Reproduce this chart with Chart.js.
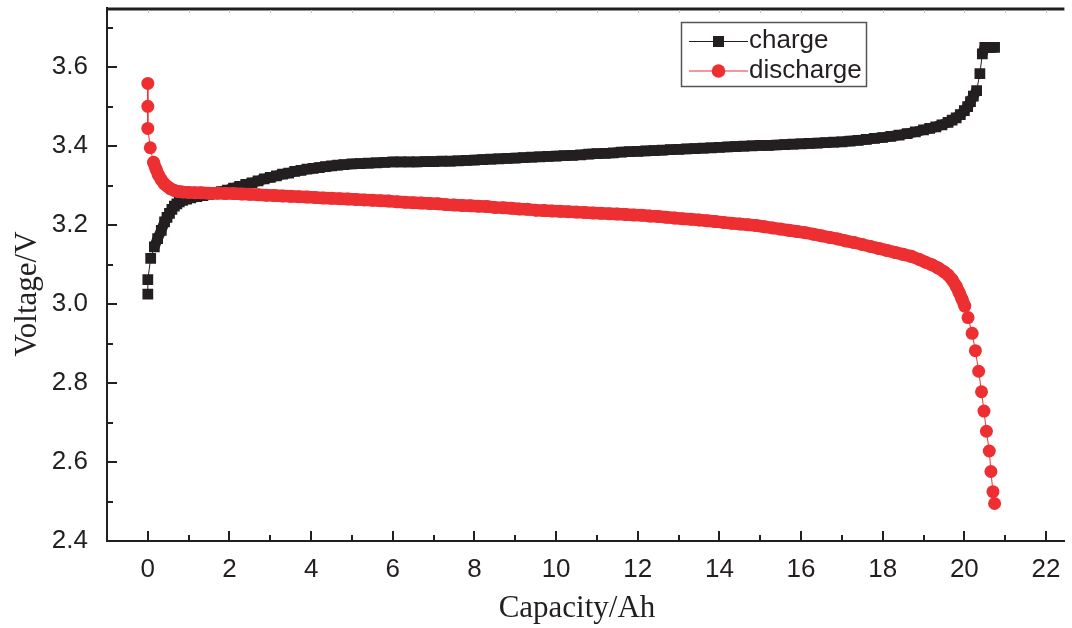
<!DOCTYPE html>
<html>
<head>
<meta charset="utf-8">
<script src="https://cdn.jsdelivr.net/npm/chart.js@4/dist/chart.umd.min.js"></script>
<style>
  body { margin: 0; background: #fff; }
  #wrap { width: 1072px; height: 628px; }
</style>
</head>
<body>
<div id="wrap"><canvas id="chart" width="1072" height="628"></canvas></div>
<script>
// values
const chargeCapacity = [0.00, 0.00, 0.07, 0.16, 0.24, 0.33, 0.41, 0.47, 0.53, 0.59, 0.65, 0.71, 0.77, 0.85, 0.95, 1.05,
  1.2, 1.35, 1.5, 1.65, 1.8, 1.95, 2.1, 2.25, 2.4, 2.55, 2.7, 2.85, 3.0, 3.15, 3.3, 3.45, 3.6, 3.75, 3.9, 4.05,
  4.2, 4.35, 4.5, 4.65, 4.8, 5.0, 5.2, 5.4, 5.6, 5.8, 6.0, 6.2, 6.4, 6.6, 6.8, 7.0, 7.2, 7.4, 7.6, 7.8,
  8.0, 8.2, 8.4, 8.6, 8.8, 9.0, 9.2, 9.4, 9.6, 9.8, 10.0, 10.2, 10.4, 10.6, 10.8, 11.0, 11.2, 11.4, 11.6, 11.8,
  12.0, 12.2, 12.4, 12.6, 12.8, 13.0, 13.2, 13.4, 13.6, 13.8, 14.0, 14.2, 14.4, 14.6, 14.8, 15.0, 15.2, 15.4, 15.6, 15.8,
  16.0, 16.2, 16.4, 16.6, 16.8, 17.0, 17.2, 17.4, 17.6, 17.8, 18.0, 18.2, 18.4, 18.6, 18.8, 19.0, 19.15, 19.3, 19.45, 19.6,
  19.7, 19.8, 19.9, 20.0, 20.08, 20.15, 20.22, 20.3, 20.38, 20.44, 20.5, 20.58, 20.66, 20.74];
const chargeVoltage = [3.025, 3.062, 3.116, 3.145, 3.166, 3.187, 3.208, 3.220, 3.230, 3.240, 3.248, 3.254, 3.259, 3.263, 3.266, 3.269,
  3.272, 3.275, 3.278, 3.281, 3.285, 3.289, 3.294, 3.298, 3.303, 3.307, 3.312, 3.317, 3.321, 3.325, 3.329, 3.332, 3.336, 3.339, 3.342, 3.344,
  3.346, 3.348, 3.350, 3.352, 3.353, 3.355, 3.356, 3.357, 3.358, 3.359, 3.360, 3.360, 3.360, 3.360, 3.361, 3.361, 3.362, 3.362, 3.363, 3.364,
  3.365, 3.366, 3.367, 3.368, 3.369, 3.370, 3.371, 3.372, 3.373, 3.374, 3.375, 3.376, 3.377, 3.378, 3.380, 3.381, 3.382, 3.383, 3.385, 3.386,
  3.387, 3.388, 3.389, 3.390, 3.391, 3.392, 3.393, 3.394, 3.395, 3.396, 3.397, 3.398, 3.399, 3.400, 3.401, 3.402, 3.402, 3.403, 3.404, 3.405,
  3.406, 3.407, 3.408, 3.409, 3.410, 3.411, 3.413, 3.415, 3.417, 3.420, 3.422, 3.425, 3.428, 3.432, 3.436, 3.441, 3.445, 3.449, 3.454, 3.460,
  3.466, 3.472, 3.480, 3.490, 3.500, 3.513, 3.527, 3.541, 3.584, 3.634, 3.650, 3.650, 3.650, 3.650];

const dischargeCapacity = [0.00, 0.00, 0.00, 0.06, 0.14, 0.20, 0.26, 0.33, 0.40, 0.48, 0.56, 0.65, 0.75, 0.85, 1.0, 1.15,
  1.3, 1.5, 1.7, 1.9, 2.1, 2.3, 2.5, 2.7, 2.9, 3.1, 3.3, 3.5, 3.7, 3.9, 4.1, 4.3, 4.5, 4.7, 4.9, 5.1, 5.3, 5.5, 5.7, 5.9,
  6.1, 6.3, 6.5, 6.7, 6.9, 7.1, 7.3, 7.5, 7.7, 7.9, 8.1, 8.3, 8.5, 8.7, 8.9, 9.1, 9.3, 9.5, 9.7, 9.9,
  10.1, 10.3, 10.5, 10.7, 10.9, 11.1, 11.3, 11.5, 11.7, 11.9, 12.1, 12.3, 12.5, 12.7, 12.9, 13.1, 13.3, 13.5, 13.7, 13.9,
  14.1, 14.3, 14.5, 14.7, 14.9, 15.1, 15.3, 15.5, 15.7, 15.9, 16.1, 16.3, 16.5, 16.7, 16.9, 17.1, 17.3, 17.5, 17.7, 17.9,
  18.1, 18.3, 18.5, 18.7, 18.9, 19.05, 19.2, 19.35, 19.5, 19.6, 19.7, 19.8, 19.87, 19.94,
  20.01, 20.09, 20.19, 20.27, 20.35, 20.42, 20.48, 20.54, 20.61, 20.65, 20.70, 20.74];
const dischargeVoltage = [3.559, 3.501, 3.445, 3.396, 3.359, 3.342, 3.327, 3.315, 3.305, 3.298, 3.292, 3.288, 3.285, 3.284, 3.283, 3.282,
  3.282, 3.281, 3.281, 3.280, 3.280, 3.279, 3.278, 3.277, 3.276, 3.275, 3.274, 3.273, 3.272, 3.271, 3.270, 3.269, 3.268, 3.267, 3.266, 3.265, 3.264, 3.263, 3.262, 3.261,
  3.259, 3.258, 3.257, 3.256, 3.255, 3.254, 3.252, 3.251, 3.250, 3.249, 3.248, 3.247, 3.245, 3.244, 3.243, 3.241, 3.240, 3.238, 3.237, 3.236,
  3.235, 3.234, 3.233, 3.232, 3.231, 3.230, 3.229, 3.228, 3.227, 3.226, 3.225, 3.223, 3.222, 3.220, 3.218, 3.216, 3.215, 3.213, 3.211, 3.209,
  3.207, 3.205, 3.203, 3.201, 3.199, 3.196, 3.193, 3.190, 3.187, 3.184, 3.181, 3.177, 3.173, 3.169, 3.165, 3.160, 3.156, 3.151, 3.146, 3.141,
  3.136, 3.131, 3.126, 3.121, 3.113, 3.106, 3.100, 3.092, 3.082, 3.074, 3.062, 3.045, 3.030, 3.013,
  2.995, 2.966, 2.926, 2.882, 2.830, 2.778, 2.729, 2.678, 2.628, 2.576, 2.525, 2.495];

const xTicks = [0, 2, 4, 6, 8, 10, 12, 14, 16, 18, 20, 22];
const xMinorTicks = [-1, 1, 3, 5, 7, 9, 11, 13, 15, 17, 19, 21];
const yTicks = [2.4, 2.6, 2.8, 3.0, 3.2, 3.4, 3.6];
const yMinorTicks = [2.5, 2.7, 2.9, 3.1, 3.3, 3.5, 3.7];
const seriesNames = ['charge', 'discharge'];

const INK = '#231f20';
const RED = '#ee2f32';

const toPoints = (xs, ys) => xs.map((x, i) => ({ x: x, y: ys[i] }));

// where markers sit close together the original prints a solid band;
// fill the gaps between close neighbours with a thick segment
const bandWidth = w => c => Math.hypot(c.p1.x - c.p0.x, c.p1.y - c.p0.y) < 11 ? w : 1;

// frame, inward ticks, legend and axis titles
const decor = {
  id: 'decor',
  afterDraw(chart) {
    const { ctx, chartArea: a, scales: { x, y } } = chart;
    ctx.save();
    ctx.strokeStyle = INK;
    ctx.lineWidth = 2;
    ctx.beginPath();
    xTicks.forEach(v => { const p = Math.round(x.getPixelForValue(v)); ctx.moveTo(p, a.bottom); ctx.lineTo(p, a.bottom - 10); });
    xMinorTicks.forEach(v => { const p = Math.round(x.getPixelForValue(v)); ctx.moveTo(p, a.bottom); ctx.lineTo(p, a.bottom - 6); });
    yTicks.forEach(v => { const p = Math.round(y.getPixelForValue(v)); ctx.moveTo(a.left, p); ctx.lineTo(a.left + 10, p); });
    yMinorTicks.forEach(v => { const p = Math.round(y.getPixelForValue(v)); ctx.moveTo(a.left, p); ctx.lineTo(a.left + 6, p); });
    ctx.stroke();

    // top border with faint ticks
    ctx.lineWidth = 3;
    ctx.beginPath();
    ctx.moveTo(a.left - 1, a.top + 1);
    ctx.lineTo(a.right, a.top + 1);
    ctx.stroke();
    ctx.strokeStyle = '#c8c8c8';
    ctx.lineWidth = 1;
    ctx.beginPath();
    for (let v = 0; v <= 22; v++) {
      const p = Math.round(x.getPixelForValue(v)) + 0.5;
      ctx.moveTo(p, a.top + 2);
      ctx.lineTo(p, a.top + 5);
    }
    ctx.stroke();

    // legend
    ctx.strokeStyle = '#555';
    ctx.lineWidth = 1.5;
    ctx.strokeRect(681.5, 22.5, 185, 64);
    const rows = [
      { name: seriesNames[0], color: INK, y: 41.5, shape: 'rect' },
      { name: seriesNames[1], color: RED, y: 71, shape: 'circle' }
    ];
    rows.forEach(r => {
      ctx.strokeStyle = r.color;
      ctx.lineWidth = 1.2;
      ctx.beginPath();
      ctx.moveTo(689, r.y);
      ctx.lineTo(748, r.y);
      ctx.stroke();
      ctx.fillStyle = r.color;
      if (r.shape === 'rect') {
        ctx.fillRect(713, r.y - 5.5, 11, 11);
      } else {
        ctx.beginPath();
        ctx.arc(718.5, r.y, 6.8, 0, Math.PI * 2);
        ctx.fill();
      }
      ctx.fillStyle = INK;
      ctx.font = '26px "Liberation Sans", Arial, sans-serif';
      ctx.textBaseline = 'alphabetic';
      ctx.textAlign = 'left';
      ctx.fillText(r.name, 749, r.y + 6.5);
    });

    // axis titles
    ctx.fillStyle = INK;
    ctx.font = '31px "Liberation Serif", "Times New Roman", serif';
    ctx.textAlign = 'center';
    ctx.fillText('Capacity/Ah', 577, 617);
    ctx.translate(36, 294);
    ctx.rotate(-Math.PI / 2);
    ctx.fillText('Voltage/V', 0, 0);
    ctx.restore();
  }
};

new Chart(document.getElementById('chart').getContext('2d'), {
  type: 'scatter',
  data: {
    datasets: [
      {
        label: seriesNames[1],
        data: toPoints(dischargeCapacity, dischargeVoltage),
        showLine: true,
        borderColor: RED,
        borderWidth: 1,
        borderCapStyle: 'round',
        borderJoinStyle: 'round',
        segment: { borderWidth: bandWidth(12.5) },
        backgroundColor: RED,
        pointStyle: 'circle',
        pointRadius: 6.5,
        pointBorderWidth: 0,
        order: 0
      },
      {
        label: seriesNames[0],
        data: toPoints(chargeCapacity, chargeVoltage),
        showLine: true,
        borderColor: INK,
        borderWidth: 1,
        borderJoinStyle: 'miter',
        segment: { borderWidth: bandWidth(10.5) },
        backgroundColor: INK,
        pointStyle: 'rect',
        pointRadius: 7.6,
        pointBorderWidth: 0,
        order: 1
      }
    ]
  },
  options: {
    responsive: false,
    animation: false,
    layout: { padding: { top: 8, left: 0, right: 0, bottom: 0 } },
    plugins: { legend: { display: false }, tooltip: { enabled: false } },
    scales: {
      x: {
        type: 'linear',
        min: -1,
        max: 22.45,
        afterFit(s) { s.height = 87; s.paddingLeft = 0; s.paddingRight = 0; },
        afterBuildTicks(s) { s.ticks = xTicks.map(v => ({ value: v })); },
        grid: { display: false },
        border: { color: INK, width: 2 },
        ticks: {
          padding: 5,
          color: INK,
          font: { family: '"Liberation Sans", Arial, sans-serif', size: 26 },
          maxRotation: 0,
          callback: v => String(v)
        }
      },
      y: {
        type: 'linear',
        min: 2.4,
        max: 3.75,
        afterFit(s) { s.width = 107; s.paddingTop = 0; s.paddingBottom = 0; },
        afterBuildTicks(s) { s.ticks = yTicks.map(v => ({ value: v })); },
        grid: { display: false },
        border: { color: INK, width: 2 },
        ticks: {
          padding: 11,
          color: INK,
          font: { family: '"Liberation Sans", Arial, sans-serif', size: 26 },
          callback: v => v.toFixed(1)
        }
      }
    }
  },
  plugins: [decor]
});
</script>
</body>
</html>
